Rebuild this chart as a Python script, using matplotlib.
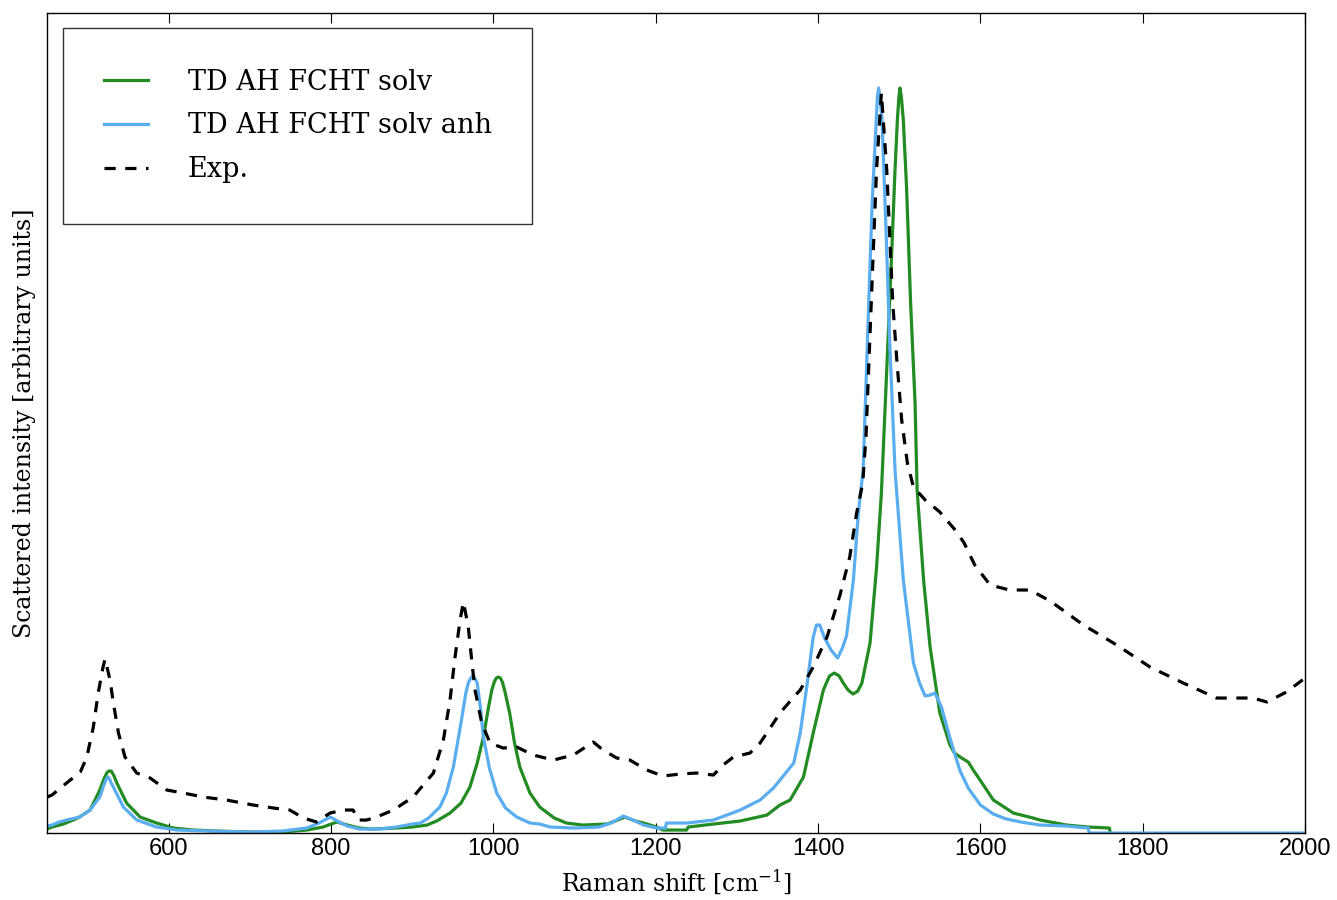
import numpy as np
import matplotlib
matplotlib.use('Agg')
import matplotlib.pyplot as plt

plt.rcParams['font.family'] = 'DejaVu Serif'
plt.rcParams['mathtext.fontset'] = 'dejavuserif'

# TD AH FCHT solv (green)
green_x = [450, 456, 470, 482, 490, 503, 515, 520, 523.5, 526, 529, 532, 536, 548, 564.6, 585, 605.6,
           630, 660, 700, 740, 770, 790, 800, 807, 820, 835, 850, 880, 900, 918, 930, 946.5,
           960, 971, 980, 987.6, 994, 998, 1001, 1003.5, 1006, 1008.5, 1011, 1014, 1020, 1026,
           1032.5, 1045, 1057, 1075, 1090,
           1110, 1140, 1150, 1162, 1175, 1185, 1201, 1209, 1238, 1240, 1271, 1304, 1337, 1353,
           1365.5, 1382, 1394, 1406.5, 1414, 1420, 1426, 1431, 1437, 1443, 1449, 1454, 1464, 1472,
           1478, 1484.6, 1490.7, 1494.8, 1497.7, 1499.5, 1501, 1502.7, 1505, 1509, 1514, 1519.5,
           1522, 1530, 1538, 1550, 1562.5, 1568, 1575, 1585, 1592, 1599.6, 1616, 1640.6, 1665,
           1673.5, 1706, 1733, 1759, 1760]
green_y = [4, 6, 9, 13, 16, 23, 43, 54, 60, 62, 62, 58, 50, 30, 16, 10, 5,
           3, 2, 1, 1, 3, 6, 9, 11, 8, 5, 4, 5, 6, 8, 12, 20,
           30, 46, 70, 96, 126, 143, 151, 155, 156, 155, 151, 142, 120, 90,
           66, 40, 26, 15, 10,
           8, 9, 12, 16, 12, 10, 6, 3, 3, 6, 9, 12, 18, 28,
           33, 56, 100, 143, 157, 160, 157, 150, 143, 139, 142, 150, 190, 265,
           340, 463, 580, 663, 713, 735, 745, 735, 713, 646, 530, 430,
           343, 253, 186, 120, 88, 80, 76, 71, 62, 53, 33, 20, 15,
           13, 8, 6, 5, 0]

# TD AH FCHT solv anh (light blue)
blue_x = [450, 456, 465, 474, 490, 503, 515, 520, 523, 525, 527, 529, 531.7, 544, 560.5, 585, 610,
          650, 700, 740, 770, 785, 799, 810, 820, 835, 860, 880, 900, 910, 920, 934, 942, 950.6,
          960, 966, 969, 972, 974.5, 977, 980, 984, 987.6, 995, 1004, 1015, 1028.7, 1045, 1057,
          1070, 1100, 1130, 1145, 1160, 1172, 1185, 1201, 1212, 1213, 1238, 1271, 1304, 1328.5,
          1345, 1353, 1370, 1378, 1386, 1394, 1398, 1402, 1408, 1416, 1424, 1430, 1435, 1443.5,
          1449.6, 1455.5, 1461, 1466.6, 1471.7, 1473, 1474.5, 1476.3, 1478.8, 1484, 1488,
          1494.8, 1505, 1517.5, 1525, 1532, 1538, 1544, 1552, 1562.5, 1568, 1575, 1585, 1600,
          1616, 1632, 1650, 1673, 1706, 1733, 1734, 2000]
blue_y = [7, 8, 11, 13, 16, 23, 36, 48, 54, 56, 54, 50, 46, 26, 13, 6, 3,
          2, 1, 2, 5, 10, 16, 11, 7, 4, 4, 6, 9, 10, 15, 26, 40, 66,
          110, 140, 150, 155, 157, 155, 150, 125, 96, 65, 40, 25, 16, 10, 9,
          6, 5, 6, 10, 17, 13, 8, 5, 5, 10, 10, 13, 23, 33,
          45, 53, 70, 100, 146, 196, 208, 208, 195, 183, 175, 185, 197, 253,
          320, 363, 496, 630, 713, 735, 745, 735, 713, 596, 496,
          363, 253, 170, 150, 137, 138, 140, 126, 95, 80, 62, 45, 28,
          19, 14, 11, 8, 7, 5, 0, 0]

# Exp. (black dashed)
exp_x = [450, 456, 474, 491, 499, 507, 513, 519, 521.5, 527.6, 531.7, 538, 546, 560.5, 577, 597.5,
         618, 642.6, 671, 704, 729, 749, 766, 782, 798.7, 815, 827, 833.6, 843.8, 856, 876.7,
         901, 926, 938.3, 946.5, 952.7, 958.9, 963, 969, 973.2, 977.3, 985.6, 995.8, 1012,
         1028.7, 1049, 1074, 1098.5, 1123, 1135, 1152, 1168, 1189, 1209, 1230, 1250, 1271,
         1283, 1295.6, 1316, 1328.5, 1345, 1353, 1370, 1378, 1394, 1411, 1427, 1439, 1447.5,
         1455, 1459, 1465.5, 1472, 1478, 1484.6, 1492, 1497, 1503, 1510, 1517.5, 1532, 1550,
         1570, 1580, 1593, 1612, 1636, 1661, 1686, 1727, 1768, 1809, 1850, 1891, 1912, 1936,
         1953, 1977, 2000]
exp_y = [36, 38, 50, 61, 76, 106, 140, 166, 174, 153, 130, 100, 76, 60, 55, 43,
         40, 36, 33, 28, 25, 23, 15, 11, 20, 23, 23, 13, 13, 16, 23,
         36, 60, 93, 133, 176, 213, 231, 206, 173, 143, 110, 90, 85,
         86, 78, 73, 78, 91, 83, 75, 73, 63, 57, 59, 60, 58,
         68, 76, 80, 90, 110, 120, 136, 143, 166, 196, 238, 276, 320,
         350, 396, 530, 663, 740, 663, 530, 473, 413, 370, 346, 333, 321,
         302, 290, 268, 248, 243, 243, 232, 208, 188, 166, 150, 135, 135, 135,
         131, 141, 155]

labels = ['TD AH FCHT solv', 'TD AH FCHT solv anh', 'Exp.']

fig = plt.figure(figsize=(13.37, 9.0), dpi=100)
ax = fig.add_axes([0.0352, 0.0744, 0.9409, 0.9112])

ax.plot(green_x, green_y, '-', color='#228b22', linewidth=2.3, label=labels[0])
ax.plot(blue_x, blue_y, '-', color='#5aaef0', linewidth=2.3, label=labels[1])
ax.plot(exp_x, exp_y, '--', color='black', linewidth=2.3, dashes=(3.5, 3), label=labels[2])

ax.set_xlim(450, 2000)
ax.set_ylim(0, 820)
ax.set_xticks(np.arange(600, 2001, 200))
ax.set_yticks([])
ax.tick_params(axis='x', direction='in', top=True, length=7, width=0.8, labelsize=17)
for t in ax.get_xticklabels():
    t.set_family('Liberation Sans')
for s in ax.spines.values():
    s.set_linewidth(1.0)

ax.set_xlabel(r'Raman shift [cm$^{-1}$]', fontsize=17, labelpad=5)
ax.set_ylabel('Scattered intensity [arbitrary units]', fontsize=17, labelpad=8)

leg = ax.legend(loc='upper left', bbox_to_anchor=(0.0127, 0.9817), borderaxespad=0,
                fontsize=19.5, frameon=True, fancybox=False, borderpad=1.5,
                handlelength=1.65, handletextpad=1.45, labelspacing=0.62)
leg.get_frame().set_edgecolor('black')
leg.get_frame().set_linewidth(1.0)

fig.savefig('out.png', dpi=100, facecolor='white')
